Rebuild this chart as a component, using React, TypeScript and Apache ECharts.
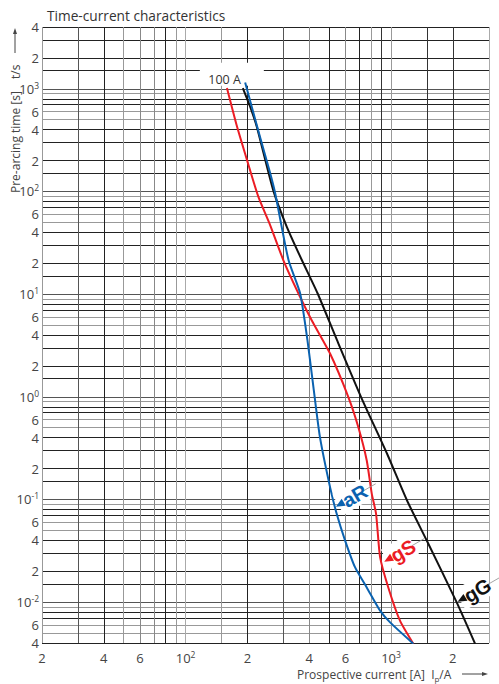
import React, { useEffect, useRef } from 'react';
import * as echarts from 'echarts';

// gG (black) characteristic: prospective current [A] / pre-arcing time [s]
const currentGG = [190, 206, 222, 267, 311, 368, 439, 546, 715, 957, 1197, 1493, 2089, 2566];
const timeGG = [1016, 672, 429, 103, 45.3, 21.5, 10.2, 3.56, 0.995, 0.279, 0.0978, 0.0398, 0.00995, 0.00394];

// aR (blue)
const currentAR = [195, 230, 258, 273, 317, 361, 392, 419, 451, 505, 544, 598, 668, 762, 885, 990, 1284];
const timeAR = [1152, 343, 151, 96, 21.5, 10.2, 3.56, 1.25, 0.405, 0.132, 0.0726, 0.0398, 0.0219, 0.0139, 0.00826, 0.00635, 0.00394];

// gS (red)
const currentGS = [159, 177, 199, 226, 258, 299, 354, 411, 505, 620, 693, 762, 806, 846, 885, 970, 1106, 1284];
const timeGS = [1016, 446, 203, 89, 47.1, 21.5, 10.2, 5.57, 2.64, 0.995, 0.508, 0.24, 0.114, 0.0726, 0.0274, 0.0139, 0.0066, 0.00394];

// axis ranges
const xMin = 20;
const xMax = 3000;
const yMin = 0.004;
const yMax = 4000;

// grid line values
const xGridValues = [20, 30, 40, 50, 60, 70, 80, 90, 100, 150, 200, 300, 400, 500, 600, 700, 800, 900, 1000, 1500, 2000, 3000];
const yGridValues = [
  0.004, 0.005, 0.006, 0.007, 0.008, 0.009,
  0.01, 0.015, 0.02, 0.03, 0.04, 0.05, 0.06, 0.07, 0.08, 0.09,
  0.1, 0.15, 0.2, 0.3, 0.4, 0.5, 0.6, 0.7, 0.8, 0.9,
  1, 1.5, 2, 3, 4, 5, 6, 7, 8, 9,
  10, 15, 20, 30, 40, 50, 60, 70, 80, 90,
  100, 150, 200, 300, 400, 500, 600, 700, 800, 900,
  1000, 1500, 2000, 3000, 4000,
];

// tick labels
const xLabelValues = [20, 40, 60, 100, 200, 400, 600, 1000, 2000];
const yLabelValues = [
  0.004, 0.006, 0.01, 0.02, 0.04, 0.06, 0.1, 0.2, 0.4, 0.6, 1, 2, 4, 6,
  10, 20, 40, 60, 100, 200, 400, 600, 1000, 2000, 4000,
];

const xGridColors = ['#999', '#555', '#222', '#999', '#888', '#888', '#222', '#999', '#aaa', '#999', '#222',
  '#555', '#888', '#222', '#888', '#222', '#999', '#333', '#999', '#333', '#333', '#aaa'];

function mantissa(v: number) {
  const e = Math.floor(Math.log10(v) + 1e-9);
  return Math.round((v / Math.pow(10, e)) * 10) / 10;
}

function yColor(v: number) {
  const m = mantissa(v);
  if (m === 5 || m === 6 || m === 9) return '#999';
  if (m === 1) return '#555';
  return '#222';
}

const yGridColors = yGridValues.map(yColor);

function fmtLabel(v: number) {
  const e = Math.floor(Math.log10(v) + 1e-9);
  const m = Math.round(v / Math.pow(10, e));
  if (m === 1) return `{b|10}{s|${e}}`;
  return `{b|${m}}`;
}

const labelRich = {
  b: { fontSize: 13, lineHeight: 16, color: '#444', fontFamily: 'Open Sans' },
  s: { fontSize: 8.5, lineHeight: 9, color: '#444', fontFamily: 'Open Sans', verticalAlign: 'top' as const },
};

const FONT = '"Open Sans", "Noto Sans", sans-serif';

export default function App() {
  const ref = useRef<HTMLDivElement>(null);

  useEffect(() => {
    if (!ref.current) return;
    const chart = echarts.init(ref.current, undefined, { renderer: 'svg' });

    const zip = (xs: number[], ys: number[]) => xs.map((x, i) => [x, ys[i]]);

    chart.setOption({
      animation: false,
      backgroundColor: '#fff',
      grid: { left: 42, right: 10, top: 27, bottom: 41, containLabel: false },
      xAxis: {
        type: 'log',
        logBase: 10,
        min: xMin,
        max: xMax,
        axisLine: { show: false },
        axisTick: { show: false, customValues: xGridValues },
        splitLine: { show: true, lineStyle: { color: xGridColors, width: 1 } },
        minorSplitLine: { show: false },
        axisLabel: {
          customValues: xLabelValues,
          formatter: (v: number) => fmtLabel(v),
          rich: labelRich,
          margin: 7,
          showMinLabel: true,
          showMaxLabel: true,
          hideOverlap: false,
        },
      },
      yAxis: {
        type: 'log',
        logBase: 10,
        min: yMin,
        max: yMax,
        axisLine: { show: false },
        axisTick: { show: false, customValues: yGridValues },
        splitLine: { show: true, lineStyle: { color: yGridColors, width: 1 } },
        minorSplitLine: { show: false },
        axisLabel: {
          customValues: yLabelValues,
          formatter: (v: number) => fmtLabel(v),
          rich: labelRich,
          margin: 3,
          showMinLabel: true,
          showMaxLabel: true,
          hideOverlap: false,
        },
      },
      series: [
        {
          name: 'gS', type: 'line', data: zip(currentGS, timeGS), showSymbol: false, smooth: 0.2,
          lineStyle: { color: '#ec1c24', width: 2 }, z: 3,
        },
        {
          name: 'aR', type: 'line', data: zip(currentAR, timeAR), showSymbol: false, smooth: 0.2,
          lineStyle: { color: '#0a62b0', width: 2 }, z: 4,
        },
        {
          name: 'gG', type: 'line', data: zip(currentGG, timeGG), showSymbol: false, smooth: 0.2,
          lineStyle: { color: '#111', width: 2 }, z: 3,
        },
      ],
    });

    const px = (x: number, y: number) => chart.convertToPixel({ xAxisIndex: 0, yAxisIndex: 0 }, [x, y]) as number[];

    const rot = (30 * Math.PI) / 180;
    const tag = (tip: number[], text: string, color: string, w: number) => ({
      type: 'group',
      x: tip[0],
      y: tip[1],
      rotation: rot,
      z: 100,
      children: [
        { type: 'rect', z: 100, shape: { x: 4, y: -12, width: w, height: 23 }, style: { fill: '#fff' } },
        { type: 'line', z: 101, shape: { x1: w + 2, y1: 0, x2: w + 16, y2: 0 }, style: { stroke: '#999', lineWidth: 0.8 } },
        { type: 'polygon', z: 102, shape: { points: [[1, 0], [10, -4], [10, 4]] }, style: { fill: color } },
        {
          type: 'text', z: 102, x: 10, y: 0,
          style: { text, fill: color, font: 'bold 20px "Liberation Sans", Arial, sans-serif', verticalAlign: 'middle', align: 'left' },
        },
      ],
    });

    const start = px(190, 1000);
    const tipAR = px(534, 0.084);
    const tipGS = px(918, 0.0245);
    const tipGG = px(2090, 0.00995);

    chart.setOption({
      graphic: [
        {
          type: 'text', x: 47, y: 15, z: 10,
          style: { text: 'Time-current characteristics', font: `13.7px ${FONT}`, fill: '#333', verticalAlign: 'middle' },
        },
        // y axis name
        {
          type: 'text', x: 15, y: 193, rotation: Math.PI / 2, z: 10,
          style: { text: 'Pre-arcing time [s]', font: `12px ${FONT}`, fill: '#444', verticalAlign: 'middle', align: 'left' },
        },
        {
          type: 'text', x: 15, y: 79, rotation: Math.PI / 2, z: 10,
          style: { text: 't/s', font: `12px ${FONT}`, fill: '#444', verticalAlign: 'middle', align: 'left' },
        },
        { type: 'line', z: 10, shape: { x1: 15, y1: 53, x2: 15, y2: 31 }, style: { stroke: '#444', lineWidth: 1 } },
        { type: 'polygon', z: 10, shape: { points: [[15, 28], [13, 34], [17, 34]] }, style: { fill: '#444' } },
        // x axis name
        {
          type: 'text', x: 297, y: 674, z: 10,
          style: {
            text: '{n|Prospective current [A]  I}{p|p}{n|/A}',
            verticalAlign: 'middle',
            align: 'left',
            rich: {
              n: { fontSize: 12, fontFamily: 'Open Sans', fill: '#444', color: '#444', lineHeight: 16 },
              p: { fontSize: 8, fontFamily: 'Open Sans', fill: '#444', color: '#444', lineHeight: 8, verticalAlign: 'bottom' },
            },
          },
        },
        { type: 'line', z: 10, shape: { x1: 462, y1: 674, x2: 484, y2: 674 }, style: { stroke: '#444', lineWidth: 1 } },
        { type: 'polygon', z: 10, shape: { points: [[488, 674], [482, 672], [482, 676]] }, style: { fill: '#444' } },
        // 100 A label
        { type: 'rect', z: 1, shape: { x: start[0] - 43, y: start[1] - 26, width: 64, height: 23 }, style: { fill: '#fff' } },
        {
          type: 'text', z: 10, x: start[0] - 2, y: start[1] - 9,
          style: { text: '100 A', font: `12.5px ${FONT}`, fill: '#333', align: 'right', verticalAlign: 'middle' },
        },
        tag(tipAR, 'aR', '#0a62b0', 31),
        tag(tipGS, 'gS', '#ec1c24', 31),
        tag(tipGG, 'gG', '#111', 33),
      ],
    });

    return () => chart.dispose();
  }, []);

  return <div ref={ref} style={{ position: 'absolute', left: 0, top: 0, width: 499, height: 684 }} />;
}
